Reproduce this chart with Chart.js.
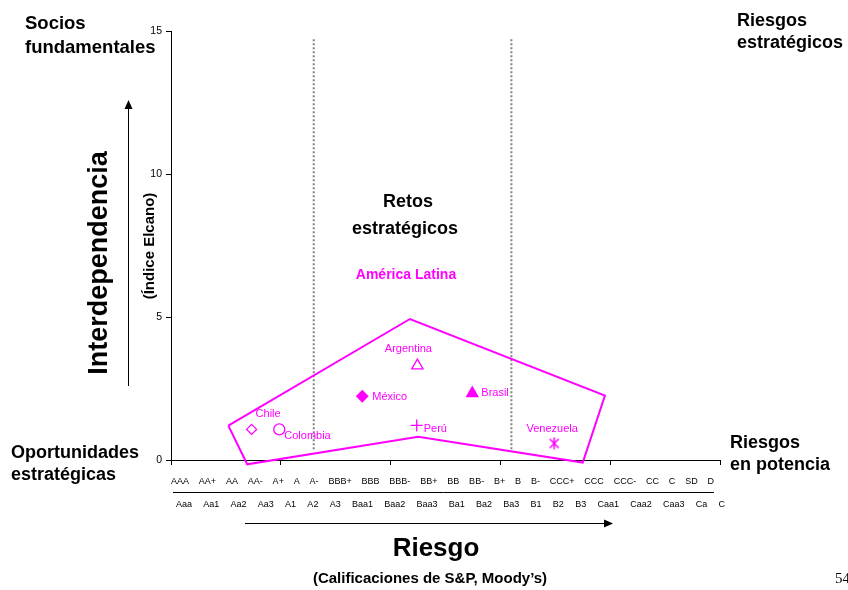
<!DOCTYPE html>
<html>
<head>
<meta charset="utf-8">
<script src="https://cdn.jsdelivr.net/npm/chart.js@4"></script>
<style>
  body { margin: 0; background: #fff; }
  #wrap { width: 848px; height: 590px; }
</style>
</head>
<body>
<div id="wrap"><canvas id="chart" width="848" height="590"></canvas></div>
<script>
const MAGENTA = "#ff00ff";
const FONT = '"Liberation Sans", Arial, sans-serif';

// países de América Latina: riesgo (escala de calificación) vs. índice Elcano
const countries = ["Chile", "Colombia", "México", "Argentina", "Perú", "Brasil", "Venezuela"];
const riskX = [3.67, 4.93, 8.71, 11.22, 11.19, 13.72, 17.45];
const elcanoY = [1.07, 1.07, 2.23, 3.30, 1.21, 2.33, 0.58];

// contorno de la región
const regionX = [2.61, 10.88, 19.76, 18.75, 11.26, 3.47, 2.61];
const regionY = [1.20, 4.93, 2.25, -0.09, 0.81, -0.15, 1.20];

// separadores de zonas
const dividerX = [6.5, 15.5];
const dividerY = [0.38, 14.76];

const spRatings = ["AAA", "AA+", "AA", "AA-", "A+", "A", "A-", "BBB+", "BBB", "BBB-", "BB+", "BB", "BB-", "B+", "B", "B-", "CCC+", "CCC", "CCC-", "CC", "C", "SD", "D"];
const moodysRatings = ["Aaa", "Aa1", "Aa2", "Aa3", "A1", "A2", "A3", "Baa1", "Baa2", "Baa3", "Ba1", "Ba2", "Ba3", "B1", "B2", "B3", "Caa1", "Caa2", "Caa3", "Ca", "C"];

const yTicks = [0, 5, 10, 15];

// estilo de cada marcador
function asterisk() {
  const c = document.createElement("canvas");
  c.width = 14;
  c.height = 14;
  const g = c.getContext("2d");
  g.strokeStyle = MAGENTA;
  g.lineWidth = 1.5;
  g.beginPath();
  g.moveTo(7, 1); g.lineTo(7, 13);
  g.moveTo(2.5, 2.5); g.lineTo(11.5, 11.5);
  g.moveTo(11.5, 2.5); g.lineTo(2.5, 11.5);
  g.stroke();
  return c;
}
const markerStyle = ["rectRot", "circle", "rectRot", "triangle", "cross", "triangle", asterisk()];
const markerRadius = [5, 5.5, 5.5, 6.5, 6, 6.5, 7];
const markerFill = ["#fff", "#fff", MAGENTA, "#fff", MAGENTA, MAGENTA, MAGENTA];
// [dx, dy, align] de cada etiqueta respecto a su punto
const labelPlace = [[4, -12, "left"], [5, 10, "left"], [10, 4, "left"], [-9, -14, "center"], [7, 7, "left"], [9, 3, "left"], [-2, -11, "center"]];

function text(ctx, str, x, y, font, align = "left", color = "#000") {
  ctx.font = font;
  ctx.fillStyle = color;
  ctx.textAlign = align;
  ctx.textBaseline = "alphabetic";
  ctx.fillText(str, x, y);
}

function spreadRow(ctx, labels, x0, x1, y) {
  ctx.font = `9px ${FONT}`;
  const widths = labels.map((l) => ctx.measureText(l).width);
  const total = widths.reduce((a, b) => a + b, 0);
  const gap = (x1 - x0 - total) / (labels.length - 1);
  let x = x0;
  labels.forEach((l, i) => {
    text(ctx, l, x, y, `9px ${FONT}`);
    x += widths[i] + gap;
  });
}

function arrow(ctx, x0, y0, x1, y1) {
  const ang = Math.atan2(y1 - y0, x1 - x0);
  const len = 9;
  ctx.strokeStyle = "#000";
  ctx.fillStyle = "#000";
  ctx.lineWidth = 1;
  ctx.beginPath();
  ctx.moveTo(x0, y0);
  ctx.lineTo(x1 - Math.cos(ang) * len, y1 - Math.sin(ang) * len);
  ctx.stroke();
  ctx.beginPath();
  ctx.moveTo(x1, y1);
  ctx.lineTo(x1 - Math.cos(ang) * len - Math.sin(ang) * 4, y1 - Math.sin(ang) * len + Math.cos(ang) * 4);
  ctx.lineTo(x1 - Math.cos(ang) * len + Math.sin(ang) * 4, y1 - Math.sin(ang) * len - Math.cos(ang) * 4);
  ctx.closePath();
  ctx.fill();
}

const annotations = {
  id: "annotations",
  afterDraw(chart) {
    const { ctx } = chart;
    ctx.save();
    const bold18 = `bold 18px ${FONT}`;

    // etiquetas de los países
    const meta = chart.getDatasetMeta(3);
    meta.data.forEach((pt, i) => {
      const [dx, dy, align] = labelPlace[i];
      text(ctx, countries[i], pt.x + dx, pt.y + dy, `11px ${FONT}`, align, MAGENTA);
    });

    // escalas de calificación
    spreadRow(ctx, spRatings, 171, 714, 484);
    spreadRow(ctx, moodysRatings, 176, 725, 507);
    ctx.strokeStyle = "#000";
    ctx.lineWidth = 1;
    ctx.beginPath();
    ctx.moveTo(173, 492.5);
    ctx.lineTo(714, 492.5);
    ctx.stroke();

    // esquinas
    text(ctx, "Socios", 25, 29, `bold 18.5px ${FONT}`);
    text(ctx, "fundamentales", 25, 53, `bold 18.5px ${FONT}`);
    text(ctx, "Riesgos", 737, 26, bold18);
    text(ctx, "estratégicos", 737, 48, bold18);
    text(ctx, "Oportunidades", 11, 458, bold18);
    text(ctx, "estratégicas", 11, 480, bold18);
    text(ctx, "Riesgos", 730, 448, bold18);
    text(ctx, "en potencia", 730, 470, bold18);

    text(ctx, "Retos", 408, 207, bold18, "center");
    text(ctx, "estratégicos", 405, 234, bold18, "center");
    text(ctx, "América Latina", 406, 279, `bold 14px ${FONT}`, "center", MAGENTA);

    // ejes
    arrow(ctx, 128.5, 386, 128.5, 100);
    arrow(ctx, 245, 523.5, 613, 523.5);
    text(ctx, "Riesgo", 436, 556, `bold 26px ${FONT}`, "center");
    text(ctx, "(Calificaciones de S&P, Moody’s)", 430, 583, `bold 15px ${FONT}`, "center");

    ctx.save();
    ctx.translate(107, 263);
    ctx.rotate(-Math.PI / 2);
    text(ctx, "Interdependencia", 0, 0, `bold 27px ${FONT}`, "center");
    ctx.restore();
    ctx.save();
    ctx.translate(154, 246);
    ctx.rotate(-Math.PI / 2);
    text(ctx, "(Índice Elcano)", 0, 0, `bold 15px ${FONT}`, "center");
    ctx.restore();

    text(ctx, "54", 835, 583, `15px "Liberation Serif", serif`);
    ctx.restore();
  },
};

new Chart(document.getElementById("chart"), {
  type: "scatter",
  data: {
    datasets: [
      {
        data: regionX.map((x, i) => ({ x, y: regionY[i] })),
        showLine: true,
        borderColor: MAGENTA,
        borderWidth: 2,
        pointRadius: 0,
        clip: false,
      },
      ...dividerX.map((x) => ({
        data: dividerY.map((y) => ({ x, y })),
        showLine: true,
        borderColor: "#808080",
        borderWidth: 2,
        borderDash: [2, 2],
        pointRadius: 0,
        clip: false,
      })),
      {
        data: riskX.map((x, i) => ({ x, y: elcanoY[i] })),
        pointStyle: markerStyle,
        pointRadius: markerRadius,
        pointBackgroundColor: markerFill,
        pointBorderColor: MAGENTA,
        pointBorderWidth: 1.3,
        clip: false,
      },
    ],
  },
  options: {
    responsive: false,
    animation: false,
    layout: { padding: { top: 31, right: 128, left: 0, bottom: 0 } },
    plugins: { legend: { display: false }, tooltip: { enabled: false } },
    scales: {
      x: {
        type: "linear",
        min: 0,
        max: 25,
        afterFit: (scale) => { scale.height = 130; },
        ticks: { stepSize: 5, autoSkip: false, callback: () => "" },
        grid: { drawOnChartArea: false, tickLength: 5, color: "#000" },
        border: { color: "#000", width: 1 },
      },
      y: {
        type: "linear",
        min: 0,
        max: 15,
        afterFit: (scale) => { scale.width = 171; },
        afterBuildTicks: (scale) => { scale.ticks = yTicks.map((value) => ({ value })); },
        ticks: { padding: 4, color: "#000", font: { family: FONT, size: 10.5 } },
        grid: { drawOnChartArea: false, tickLength: 5, color: "#000" },
        border: { color: "#000", width: 1 },
      },
    },
  },
  plugins: [annotations],
});
</script>
</body>
</html>
